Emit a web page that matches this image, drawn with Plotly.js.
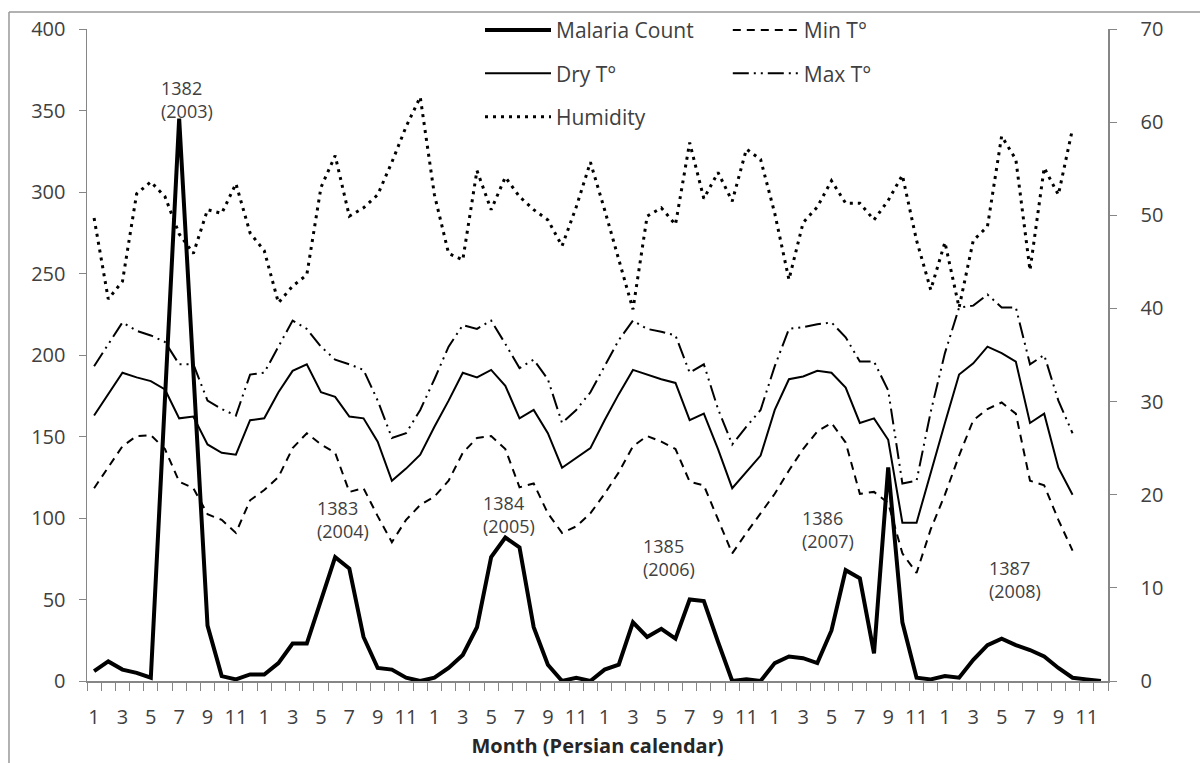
<!DOCTYPE html>
<html><head><meta charset="utf-8">
<script src="https://cdn.plot.ly/plotly-3.0.1.min.js"></script>
<style>html,body{margin:0;padding:0;background:#fff}#chart{width:1200px;height:763px}</style>
</head><body><div id="chart"></div>
<script>
const years = ['1382', '1383', '1384', '1385', '1386', '1387'];
const gregorian = ['2003', '2004', '2005', '2006', '2007', '2008'];
const months = [1, 2, 3, 4, 5, 6, 7, 8, 9, 10, 11, 12];

const malariaCount = [6, 12, 7, 5, 2, 175, 345, 190, 34, 3, 1, 4,
  4, 11, 23, 23, 50, 76, 69, 27, 8, 7, 2, 0,
  2, 8, 16, 33, 76, 88, 82, 33, 10, 0, 2, 0,
  7, 10, 36, 27, 32, 26, 50, 49, 24, 0, 1, 0,
  11, 15, 14, 11, 31, 68, 63, 17, 131, 36, 2, 1,
  3, 2, 13, 22, 26, 22, 19, 15, 8, 2, 1, 0];
const minT = [20.7, 22.9, 25.2, 26.3, 26.4, 24.9, 21.4, 20.7, 17.9, 17.3, 15.9, 19.4,
  20.5, 21.9, 25.0, 26.6, 25.4, 24.5, 20.3, 20.7, 17.7, 14.9, 17.3, 18.9,
  19.8, 21.5, 24.5, 26.1, 26.3, 24.9, 20.8, 21.2, 18.0, 15.9, 16.6, 18.0,
  20.1, 22.4, 25.2, 26.3, 25.7, 24.9, 21.4, 21.0, 17.3, 13.7, 15.9, 18.0,
  20.1, 22.6, 24.9, 26.8, 27.7, 25.6, 20.1, 20.3, 19.1, 13.7, 11.6, 16.3,
  20.0, 24.2, 28.0, 29.2, 29.9, 28.7, 21.5, 21.0, 17.3, 14.0];
const dryT = [28.5, 30.8, 33.1, 32.6, 32.2, 31.3, 28.2, 28.4, 25.4, 24.5, 24.3, 28.0,
  28.2, 31.0, 33.3, 34.0, 31.0, 30.5, 28.4, 28.2, 25.7, 21.5, 22.8, 24.3,
  27.3, 30.1, 33.1, 32.6, 33.4, 31.7, 28.2, 29.1, 26.6, 22.9, 24.0, 25.0,
  28.0, 30.8, 33.4, 32.9, 32.4, 32.0, 28.0, 28.7, 24.9, 20.7, 22.4, 24.2,
  29.1, 32.4, 32.7, 33.3, 33.1, 31.5, 27.7, 28.2, 25.9, 17.0, 17.0, 22.4,
  27.7, 32.9, 34.1, 35.9, 35.2, 34.3, 27.7, 28.7, 22.9, 20.0];
const maxT = [33.8, 36.1, 38.5, 37.6, 37.1, 36.4, 34.0, 34.0, 30.1, 29.2, 28.5, 32.9,
  33.1, 35.9, 38.7, 37.8, 35.9, 34.5, 34.0, 33.4, 30.1, 26.1, 26.6, 29.1,
  32.4, 35.9, 38.2, 37.8, 38.7, 36.2, 33.6, 34.5, 32.4, 27.7, 29.1, 31.0,
  33.8, 36.6, 38.7, 37.8, 37.5, 37.1, 33.1, 34.0, 29.2, 25.4, 27.3, 29.1,
  33.8, 37.8, 38.0, 38.3, 38.5, 36.9, 34.3, 34.3, 31.2, 21.2, 21.5, 28.9,
  35.2, 40.1, 40.3, 41.5, 40.1, 40.1, 34.0, 35.0, 30.1, 26.6];
const humidity = [49.7, 41.0, 42.9, 52.3, 53.6, 52.0, 48.0, 45.9, 50.6, 50.2, 53.4, 48.1,
  46.2, 40.6, 42.4, 43.6, 53.0, 56.4, 49.9, 50.8, 52.2, 55.7, 59.5, 62.7,
  52.2, 45.9, 45.2, 54.8, 50.6, 54.1, 52.0, 50.6, 49.5, 46.7, 50.9, 55.7,
  50.6, 45.2, 39.9, 49.9, 50.8, 49.0, 57.8, 51.8, 54.6, 51.5, 57.1, 56.0,
  50.2, 43.1, 49.2, 50.9, 53.7, 51.3, 51.3, 49.5, 51.6, 54.3, 47.3, 42.0,
  47.1, 40.1, 47.3, 48.8, 58.5, 56.0, 44.1, 55.1, 52.2, 59.3];

const xIdx = [];
const monthOf = [];
years.forEach((y, yi) => months.forEach((m, mi) => { xIdx.push(yi * months.length + mi + 1); monthOf.push(m); }));
const tickVals = xIdx.filter((v, i) => monthOf[i] % 2 === 1);
const tickText = monthOf.filter(m => m % 2 === 1).map(String);
const boundaries = [0.5].concat(xIdx.map(v => v + 0.5));

const FONT = 'Open Sans, Liberation Sans, sans-serif';
const TXT = '#404040';
const AX = '#868686';

const traces = [
  {name: 'Malaria Count', x: xIdx, y: malariaCount, yaxis: 'y2', mode: 'lines',
   line: {color: '#000', width: 4}, legend: 'legend', legendgroup: 'a'},
  {name: 'Min T°', x: xIdx, y: minT, yaxis: 'y', mode: 'lines',
   line: {color: '#000', width: 2, dash: '8px,6px'}, legend: 'legend2', legendgroup: 'b'},
  {name: 'Dry T°', x: xIdx, y: dryT, yaxis: 'y', mode: 'lines',
   line: {color: '#000', width: 2}, legend: 'legend', legendgroup: 'c'},
  {name: 'Max T°', x: xIdx, y: maxT, yaxis: 'y', mode: 'lines',
   line: {color: '#000', width: 2, dash: '16px,5px,2px,5px,2px,5px'}, legend: 'legend2', legendgroup: 'd'},
  {name: 'Humidity', x: xIdx, y: humidity, yaxis: 'y', mode: 'lines',
   line: {color: '#000', width: 3, dash: '3px,5px'}, legend: 'legend', legendgroup: 'e'}
];

const yearAnn = years.map((y, i) => ({
  text: y + '<br>(' + gregorian[i] + ')',
  xref: 'x', yref: 'y2', xanchor: 'left', yanchor: 'middle', align: 'left', showarrow: false,
  font: {family: FONT, size: 18, color: TXT}
}));
const annPos = [[5.6, 357], [16.6, 99], [28.3, 102], [39.6, 76], [50.8, 93], [64.0, 62]];
yearAnn.forEach((a, i) => { a.x = annPos[i][0]; a.y = annPos[i][1]; });

const legendBase = {
  orientation: 'v', xref: 'container', yref: 'container', xanchor: 'left', yanchor: 'top', bgcolor: 'rgba(0,0,0,0)',
  font: {family: FONT, size: 21, color: TXT}, tracegroupgap: 13, itemwidth: 66, traceorder: 'grouped'
};

const layout = {
  width: 1200, height: 763,
  margin: {l: 87, r: 92, t: 29, b: 82, autoexpand: false},
  paper_bgcolor: '#fff', plot_bgcolor: '#fff',
  font: {family: FONT, size: 20, color: TXT},
  showlegend: true,
  legend: Object.assign({}, legendBase, {x: 0.4, y: 0.987}),
  legend2: Object.assign({}, legendBase, {x: 0.6065, y: 0.987}),
  xaxis: {
    range: [0.5, 72.5], showgrid: false, zeroline: false,
    showline: true, linecolor: AX, linewidth: 1.5,
    tickmode: 'array', tickvals: tickVals, ticktext: tickText, ticks: '', ticklabelstandoff: 17,
    tickfont: {family: FONT, size: 20, color: TXT},
    minor: {tickmode: 'array', tickvals: boundaries, ticks: 'outside', ticklen: 8, tickcolor: AX, tickwidth: 1, showgrid: false},
    title: {text: '<b>Month (Persian calendar)</b>', font: {family: FONT, size: 20, color: '#262626'}, standoff: 10}
  },
  yaxis: {
    range: [0, 70], side: 'right', anchor: 'x', showgrid: false, zeroline: false,
    showline: true, linecolor: AX, linewidth: 1.5,
    tickmode: 'linear', tick0: 0, dtick: 10, ticks: 'outside', ticklen: 7, tickcolor: AX,
    ticklabelstandoff: 20, tickfont: {family: FONT, size: 20, color: TXT}
  },
  yaxis2: {
    range: [0, 400], side: 'left', overlaying: 'y', anchor: 'x', showgrid: false, zeroline: false,
    showline: true, linecolor: AX, linewidth: 1.5,
    tickmode: 'linear', tick0: 0, dtick: 50, ticks: 'outside', ticklen: 7, tickcolor: AX,
    ticklabelstandoff: 9, tickfont: {family: FONT, size: 20, color: TXT}
  },
  annotations: yearAnn,
  shapes: [
    {type: 'line', xref: 'paper', yref: 'paper', x0: -0.0764, x1: 1.2, y0: 1.026, y1: 1.026, line: {color: '#999', width: 1.5}},
    {type: 'line', xref: 'paper', yref: 'paper', x0: -0.0764, x1: -0.0764, y0: 1.026, y1: -0.2, line: {color: '#999', width: 1.5}}
  ]
};

Plotly.newPlot('chart', traces, layout, {displayModeBar: false, staticPlot: true});
</script></body></html>
